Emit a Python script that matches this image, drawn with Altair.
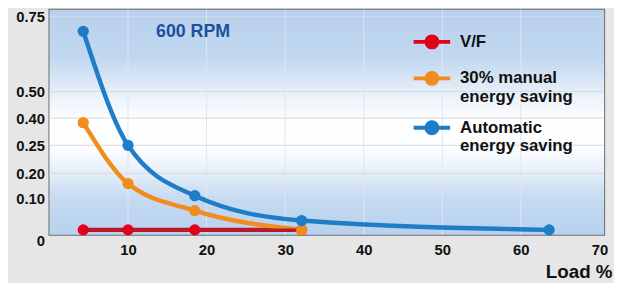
import altair as alt
import pandas as pd

# ---- data ----
series = ["V/F", "30% manual energy saving", "Automatic energy saving"]
colors = ["#e3001b", "#f28c1c", "#1e7dc6"]

vf_load = [4.3, 10, 18.5, 32.1]
vf_val = [0.0, 0.0, 0.0, 0.0]
manual_load = [4.3, 10, 18.5, 32.1]
manual_val = [0.375, 0.16, 0.062, 0.0]
auto_load = [4.3, 10, 18.5, 32.1, 63.6]
auto_val = [0.70, 0.25, 0.112, 0.03, 0.0]

y_ticks = [0, 0.10, 0.20, 0.25, 0.40, 0.50, 0.75]
x_ticks = [10, 20, 30, 40, 50, 60, 70]

# non-uniform axis layout (pixel position of each y tick inside the plot)
y_tick_px = [223, 191.5, 165.7, 137.3, 109.8, 82.8, 6.5]

W, H = 562, 228
FONT = "Liberation Sans"

rows = []
for name, xs, ys in [(series[0], vf_load, vf_val),
                     (series[1], manual_load, manual_val),
                     (series[2], auto_load, auto_val)]:
    for a, b in zip(xs, ys):
        rows.append({"load": a, "value": b, "series": name})
df = pd.DataFrame(rows)

xscale = alt.Scale(domain=[0, 70.6], nice=False, zero=False)
yscale = alt.Scale(domain=y_ticks, range=y_tick_px, nice=False, zero=False)
cscale = alt.Scale(domain=series, range=colors)

x_axis = alt.Axis(
    values=x_ticks, ticks=False, domain=False, grid=False,
    labelFont=FONT, labelFontSize=15, labelFontWeight="bold", labelColor="#111",
    labelPadding=8, labelFlush=False, labelOverlap=False,
    title="Load %", titleFont=FONT, titleFontSize=19, titleFontWeight="bold",
    titleColor="#111", titleX=570, titleY=43, titleAlign="right",
    titleBaseline="alphabetic", titleAnchor="end",
)
y_axis = alt.Axis(
    values=y_ticks, ticks=False, domain=False, grid=False,
    labelFont=FONT, labelFontSize=15, labelFontWeight="bold", labelColor="#111",
    labelPadding=5, labelFlush=False, labelOverlap=False,
    labelExpr="datum.value == 0 ? '0' : format(datum.value, '.2f')",
    labelOffset={"condition": {"test": "datum.value == 0", "value": 11}, "value": 0},
    title=None,
)

bg = alt.Chart(alt.Data(values=[{}])).mark_rect(
    color=alt.Gradient(
        gradient="linear", x1=0, x2=0, y1=0, y2=1,
        stops=[
            alt.GradientStop(color="#b7d0ec", offset=0),
            alt.GradientStop(color="#c2d8f0", offset=0.22),
            alt.GradientStop(color="#eef4fb", offset=0.40),
            alt.GradientStop(color="#ffffff", offset=0.50),
            alt.GradientStop(color="#fbfdff", offset=0.62),
            alt.GradientStop(color="#e3edf8", offset=0.73),
            alt.GradientStop(color="#c4daf2", offset=0.84),
            alt.GradientStop(color="#b8d1ee", offset=1),
        ],
    )
).encode(x=alt.value(0), x2=alt.value(W), y=alt.value(0), y2=alt.value(H))

xgrid = alt.Chart(pd.DataFrame({"t": x_ticks[:-1]})).mark_rule(
    color="#e2e5ee", strokeWidth=1
).encode(x=alt.X("t:Q", scale=xscale, axis=x_axis), y=alt.value(0), y2=alt.value(H))

ygrid = alt.Chart(pd.DataFrame({"t": y_ticks[1:]})).mark_rule(
    color="#d6dae0", strokeWidth=1
).encode(y=alt.Y("t:Q", scale=yscale, axis=y_axis), x=alt.value(0), x2=alt.value(W))

x_enc = alt.X("load:Q", scale=xscale, axis=x_axis)
y_enc = alt.Y("value:Q", scale=yscale, axis=y_axis)
c_enc = alt.Color(
    "series:N", scale=cscale,
    legend=alt.Legend(
        title=None, orient="none", legendX=367, legendY=12, padding=0,
        symbolType="M-1,0H1M-0.3,0A0.3,0.3,0,1,1,0.3,0A0.3,0.3,0,1,1,-0.3,0Z",
        symbolSize=1369, symbolStrokeWidth=4, symbolOpacity=1,
        labelFont=FONT, labelFontSize=17, labelFontWeight="bold", labelColor="#111",
        labelLimit=400, labelOffset=8, rowPadding=2,
        labelExpr="indexof(datum.label, ' energy saving') > 0 ? [replace(datum.label, ' energy saving', ''), 'energy saving'] : datum.label",
    ),
)

lines = alt.Chart(df).mark_line(strokeWidth=4.5, interpolate="monotone").encode(
    x=x_enc, y=y_enc, color=c_enc
)
vf_core = alt.Chart(df).transform_filter(
    alt.datum.series == series[0]
).mark_line(strokeWidth=3, interpolate="monotone", color="#a8232a").encode(
    x=x_enc, y=y_enc
)
points = alt.Chart(df).mark_circle(size=130, opacity=1).encode(
    x=x_enc, y=y_enc, color=c_enc
)

chart = alt.layer(bg, xgrid, ygrid, lines, vf_core, points).properties(
    width=W, height=H,
    autosize=alt.AutoSizeParams(type="none"),
    padding={"left": 42, "top": 0, "right": 10, "bottom": 47},
    title=alt.TitleParams(
        text="600 RPM", anchor="start", frame="group", orient="top",
        dx=108, dy=46, offset=0, baseline="alphabetic",
        font=FONT, fontSize=18, fontWeight="bold", color="#1c4f9c",
    ),
).configure(
    background="#e6e6e6",
).configure_view(
    stroke="#6b6b6b", strokeWidth=2,
)

chart.save("out.html", embed_options={"renderer": "svg", "actions": False})
